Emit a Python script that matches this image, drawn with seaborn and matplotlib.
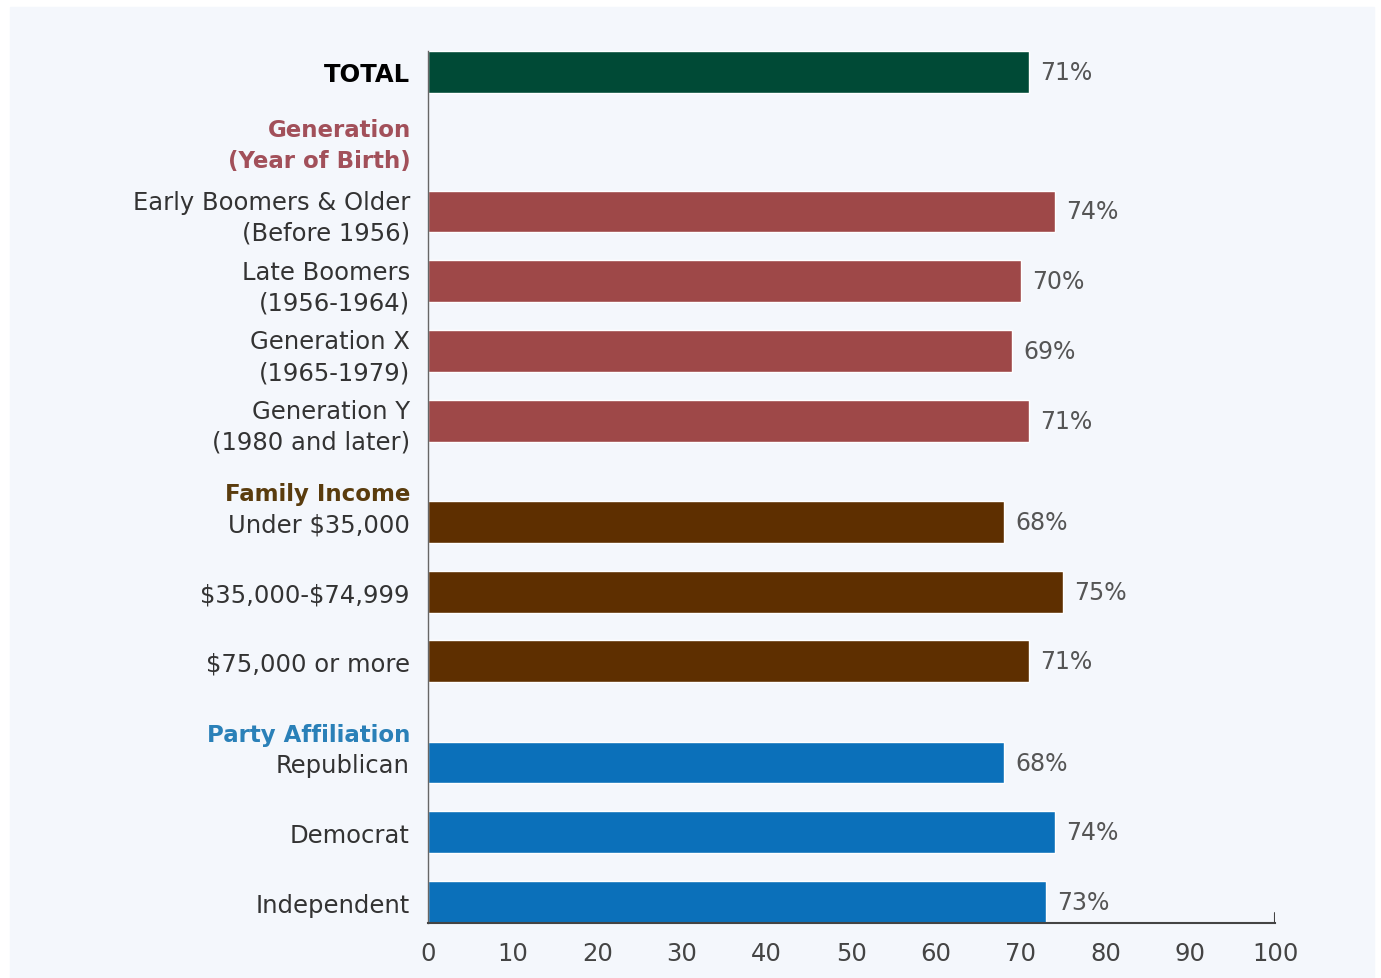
import seaborn as sns
import matplotlib.pyplot as plt
import pandas as pd
from matplotlib.patches import Rectangle

# data
groups = ["Total", "Generation", "Income", "Party"]
headers = ["", "Generation\n(Year of Birth)", "Family Income", "Party Affiliation"]
labels = [
    ["TOTAL"],
    ["Early Boomers & Older\n(Before 1956)", "Late Boomers\n(1956-1964)",
     "Generation X\n(1965-1979)", "Generation Y\n(1980 and later)"],
    ["Under \\$35,000", "\\$35,000-\\$74,999", "\\$75,000 or more"],
    ["Republican", "Democrat", "Independent"],
]
values = [
    [71],
    [74, 70, 69, 71],
    [68, 75, 71],
    [68, 74, 73],
]

bar_colors = {"Total": "#004a36", "Generation": "#9e4848", "Income": "#5e2f00", "Party": "#0b70ba"}
header_colors = {"Generation": "#a2505a", "Income": "#5a3c0e", "Party": "#2a80b8"}
group_gap = {"Total": 0, "Generation": 1.0, "Income": 0.45, "Party": 0.45}

# build row positions: one unit per bar, extra space before each header
rows = []
y = -1
header_pos = {}
for g, labs, vals in zip(groups, labels, values):
    y += 1 + group_gap[g]
    header_pos[g] = y - group_gap[g] + 0.05
    for i, (lab, v) in enumerate(zip(labs, vals)):
        if i > 0:
            y += 1
        rows.append({"group": g, "label": lab, "value": v, "pos": y})
df = pd.DataFrame(rows)

sns.set_style("white")
plt.rcParams["font.family"] = ["DejaVu Sans"]

fig = plt.figure(figsize=(13.81, 9.79), dpi=100)
fig.patch.set_facecolor("white")
fig.add_artist(Rectangle((10 / 1381, 0), 1364 / 1381, 971 / 979,
                         transform=fig.transFigure, color="#f4f7fc", zorder=0))

ax = fig.add_axes([428 / 1381, 55 / 979, 847 / 1381, 872 / 979])
ax.set_facecolor("none")

sns.barplot(data=df, x="value", y="pos", hue="group", palette=bar_colors,
            orient="y", native_scale=True, width=0.6, legend=False,
            saturation=1, ax=ax)

for c in ax.containers:
    ax.bar_label(c, fmt="%g%%", padding=8, fontsize=17, color="#555555")

ax.set_xlim(0, 100)
ax.set_ylim(df["pos"].max() + 0.3, -0.3)
ax.set_xticks(range(0, 101, 10))
ax.set_yticks(df["pos"], df["label"])
ax.tick_params(axis="x", length=0, pad=13, labelsize=17.5, labelcolor="#444444")
ax.tick_params(axis="y", length=0, pad=13, labelsize=17.5, labelcolor="#333333")
for t in ax.get_yticklabels():
    t.set_horizontalalignment("right")
    t.set_multialignment("right")
    t.set_linespacing(1.35)
    if t.get_text() == "TOTAL":
        t.set_fontweight("bold")
        t.set_color("black")

for g in groups[1:]:
    ax.text(-0.0205, header_pos[g], headers[groups.index(g)],
            transform=ax.get_yaxis_transform(), ha="right", va="center",
            multialignment="right", linespacing=1.45, fontsize=16.5,
            fontweight="bold", color=header_colors[g])

ax.set_xlabel("")
ax.set_ylabel("")
for s in ["top", "right"]:
    ax.spines[s].set_visible(False)
ax.spines["left"].set_color("#666666")
ax.spines["left"].set_linewidth(1)
ax.spines["bottom"].set_color("#444444")
ax.spines["bottom"].set_linewidth(1.5)
ax.axvline(100, ymin=0, ymax=0.012, color="#444444", lw=1.5)

fig.savefig("out.png", dpi=100)
